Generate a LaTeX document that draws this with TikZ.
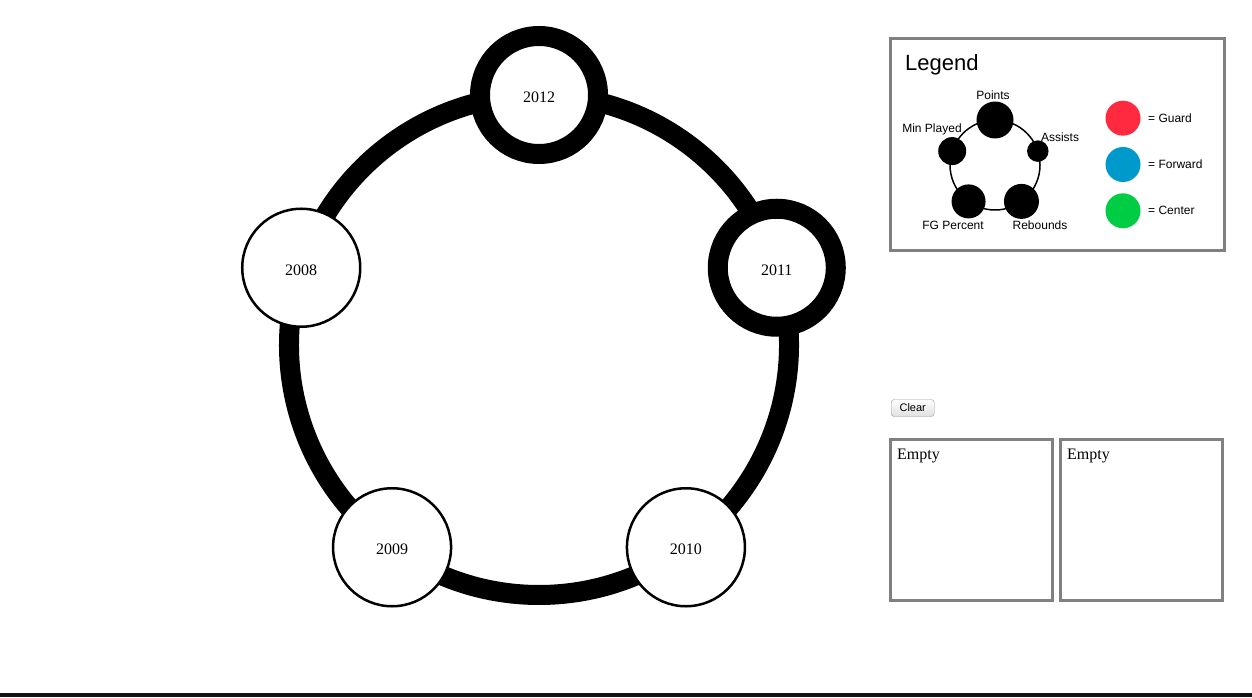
\documentclass[tikz,border=0pt]{standalone}
\usepackage{fontspec}
\setmainfont{Liberation Serif}
\setsansfont{Liberation Sans}
\usetikzlibrary{calc}
\definecolor{guardred}{RGB}{255,42,64}
\definecolor{forwardblue}{RGB}{0,153,204}
\definecolor{centergreen}{RGB}{0,204,68}
\definecolor{panelgray}{RGB}{128,128,128}

\begin{document}
\begin{tikzpicture}[x=1pt,y=1pt,
  year/.style={circle,draw,fill=white,minimum size=118pt,inner sep=0pt,text height=15pt,text depth=0pt,font=\fontsize{16}{16}\selectfont},
  dot/.style={circle,fill=black,inner sep=0pt},
  key/.style={circle,fill=#1,minimum size=35pt,inner sep=0pt},
  lbl/.style={inner sep=0pt,font=\sffamily\fontsize{12}{12}\selectfont},
  panel/.style={draw=panelgray,line width=3pt,inner sep=0pt}]
\useasboundingbox (0,0) rectangle (1252,697);
\coordinate (ring) at (539,352);
\foreach \yr/\ang in {2012/90,2011/18,2010/-54,2009/-126,2008/162}
  \coordinate (p\yr) at ($(ring)+(\ang:250)$);
\foreach \a/\s in {2012/90,2011/18,2010/-54,2009/-126,2008/162}
  \draw[line width=20pt] (p\a) arc[start angle=\s,delta angle=-72,radius=250pt];
\foreach \yr/\lw in {2012/20pt,2011/20pt,2010/2.5pt,2009/2.5pt,2008/2.5pt}
  \node[year,line width=\lw] (y\yr) at (p\yr) {\yr};
\node[panel,minimum width=334pt,minimum height=212pt] (legend) at (1057,552) {};
\node[lbl,anchor=base west,font=\sffamily\fontsize{22}{22}\selectfont] (ltitle) at (905,626) {Legend};
\coordinate (mini) at (995,532);
\draw[line width=1.5pt] (mini) circle[radius=45pt];
\foreach \n/\ang/\d in {points/90/37pt,assists/18/21.5pt,rebounds/-54/35pt,fgpct/-126/34pt,minplayed/162/28pt}
  \node[dot,minimum size=\d] (\n) at ($(mini)+(\ang:45)$) {};
\node[lbl] (tpoints) at (993,601.6) {Points};
\node[lbl] (tassists) at (1060,559.7) {Assists};
\node[lbl] (trebounds) at (1040,472) {Rebounds};
\node[lbl] (tfgpct) at (953,472) {FG Percent};
\node[lbl] (tminplayed) at (932,567.7) {Min Played};
\foreach \c/\t/\y in {guardred/Guard/578.8,forwardblue/Forward/532.5,centergreen/Center/486.2}{
  \node[key=\c] (k\t) at (1123,\y) {};
  \node[lbl,anchor=west] (t\t) at (1148,\y) {= \t};
}
\node[draw=gray!80,rounded corners=3pt,top color=white,bottom color=gray!25,minimum width=43pt,minimum height=17pt,inner sep=0pt,font=\sffamily\fontsize{11}{11}\selectfont] (clear) at (912.7,289) {Clear};
\node[panel,minimum width=162pt,minimum height=161pt] (box1) at (971.8,177.2) {};
\node[panel,minimum width=162pt,minimum height=161pt] (box2) at (1141.8,177.2) {};
\node[anchor=base west,inner sep=0pt,font=\fontsize{16}{16}\selectfont] (e1) at (897,238) {Empty};
\node[anchor=base west,inner sep=0pt,font=\fontsize{16}{16}\selectfont] (e2) at (1067,238) {Empty};
\fill[black!93] (0,0) rectangle (1252,4.5);
\end{tikzpicture}
\end{document}
